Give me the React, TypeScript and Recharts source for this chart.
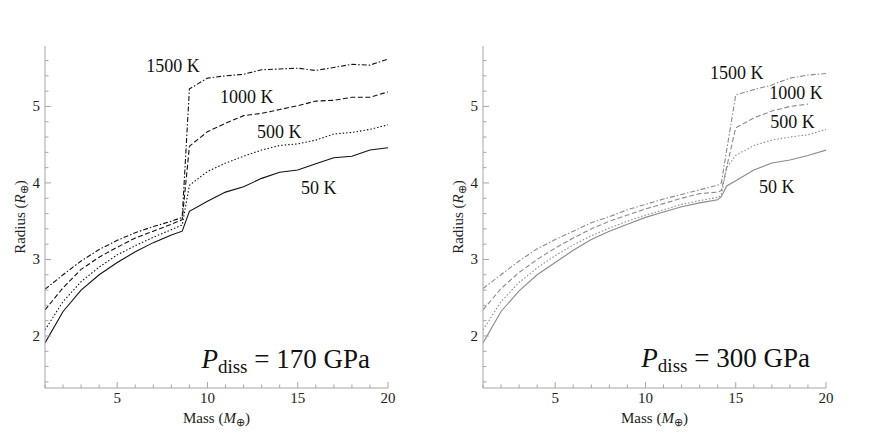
import React from "react";
import { LineChart, Line, XAxis, YAxis, ReferenceDot } from "recharts";

// Planet radius vs mass, two dissociation pressures
const masses170 = [1, 2, 3, 4, 5, 6, 7, 8, 8.6, 9, 10, 11, 12, 13, 14, 15, 16, 17, 18, 19, 20];
const r170_50 = [1.91, 2.32, 2.6, 2.8, 2.96, 3.1, 3.22, 3.32, 3.37, 3.63, 3.76, 3.88, 3.95, 4.06, 4.14, 4.17, 4.25, 4.33, 4.35, 4.43, 4.46];
const r170_500 = [2.08, 2.45, 2.71, 2.9, 3.06, 3.18, 3.29, 3.39, 3.45, 3.97, 4.15, 4.26, 4.35, 4.43, 4.49, 4.51, 4.56, 4.64, 4.66, 4.7, 4.76];
const r170_1000 = [2.34, 2.63, 2.87, 3.03, 3.16, 3.28, 3.37, 3.46, 3.52, 4.48, 4.67, 4.78, 4.88, 4.91, 4.96, 5.01, 5.07, 5.08, 5.12, 5.12, 5.19];
const r170_1500 = [2.61, 2.8, 2.98, 3.13, 3.25, 3.35, 3.43, 3.5, 3.55, 5.23, 5.37, 5.4, 5.42, 5.48, 5.49, 5.5, 5.47, 5.51, 5.55, 5.54, 5.62];

const masses300 = [1, 2, 3, 4, 5, 6, 7, 8, 9, 10, 11, 12, 13, 14, 14.2, 14.5, 15, 16, 17, 18, 19, 20];
const r300_50 = [1.91, 2.32, 2.59, 2.8, 2.96, 3.12, 3.26, 3.37, 3.46, 3.55, 3.62, 3.69, 3.74, 3.78, 3.82, 3.96, 4.03, 4.17, 4.26, 4.3, 4.36, 4.43];
const r300_500 = [2.08, 2.45, 2.7, 2.89, 3.05, 3.19, 3.31, 3.41, 3.5, 3.58, 3.65, 3.72, 3.77, 3.81, 3.84, 4.2, 4.36, 4.49, 4.56, 4.6, 4.63, 4.7];
const r300_1000 = [2.34, 2.62, 2.83, 3.0, 3.15, 3.28, 3.4, 3.5, 3.58, 3.66, 3.73, 3.8, 3.86, 3.88, 3.9, null, 4.72, 4.85, 4.94, 5.0, 5.03, null];
const r300_1500 = [2.62, 2.8, 2.98, 3.14, 3.26, 3.37, 3.48, 3.56, 3.65, 3.72, 3.79, 3.85, 3.91, 3.97, 4.0, null, 5.15, 5.22, 5.28, 5.37, 5.41, 5.43];

const tempNames = ["50 K", "500 K", "1000 K", "1500 K"];

const xTicks = [1, 2, 3, 4, 5, 6, 7, 8, 9, 10, 11, 12, 13, 14, 15, 16, 17, 18, 19, 20];
const xMajor = [5, 10, 15, 20];
const yTicks = [1.4, 1.6, 1.8, 2, 2.2, 2.4, 2.6, 2.8, 3, 3.2, 3.4, 3.6, 3.8, 4, 4.2, 4.4, 4.6, 4.8, 5, 5.2, 5.4, 5.6];
const yMajor = [2, 3, 4, 5];

const FONT = '"Liberation Serif", "Times New Roman", serif';
const FRAME = "#a6a6a6";
const DASHES = [undefined, "1.5 2", "5 2.5", "5 2 1.5 2"];

const isMajor = (list: number[], v: number) => list.some((m) => Math.abs(m - v) < 1e-6);

function BottomTick({ x, y, payload }: any) {
  const major = isMajor(xMajor, payload.value);
  return (
    <g>
      <line x1={x} x2={x} y1={y} y2={y - (major ? 6 : 3.5)} stroke={FRAME} />
      {major && (
        <text x={x} y={y + 15} textAnchor="middle" fontSize={15} fontFamily={FONT} fill="#222">
          {payload.value}
        </text>
      )}
    </g>
  );
}

function TopTick({ x, y, payload }: any) {
  const major = isMajor(xMajor, payload.value);
  return <line x1={x} x2={x} y1={y} y2={y + (major ? 6 : 3.5)} stroke={FRAME} />;
}

function LeftTick({ x, y, payload }: any) {
  const major = isMajor(yMajor, payload.value);
  return (
    <g>
      <line x1={x} x2={x + (major ? 6 : 3.5)} y1={y} y2={y} stroke={FRAME} />
      {major && (
        <text x={x - 5} y={y + 5} textAnchor="end" fontSize={15} fontFamily={FONT} fill="#222">
          {payload.value}
        </text>
      )}
    </g>
  );
}

function RightTick({ x, y, payload }: any) {
  const major = isMajor(yMajor, payload.value);
  return <line x1={x} x2={x - (major ? 6 : 3.5)} y1={y} y2={y} stroke={FRAME} />;
}

const massLabel = (props: any) => {
  const vb = props.viewBox;
  return (
    <text x={vb.x + vb.width / 2} y={vb.y + 35} textAnchor="middle" fontSize={15} fontFamily={FONT} fill="#222">
      <tspan>Mass (</tspan>
      <tspan fontStyle="italic">M</tspan>
      <tspan fontSize={11} dy={3}>⊕</tspan>
      <tspan dy={-3}>)</tspan>
    </text>
  );
};

const radiusLabel = (props: any) => {
  const vb = props.viewBox;
  const cx = vb.x + 20;
  const cy = vb.y + vb.height / 2;
  return (
    <text transform={`translate(${cx},${cy}) rotate(-90)`} textAnchor="middle" fontSize={15} fontFamily={FONT} fill="#222">
      <tspan>Radius (</tspan>
      <tspan fontStyle="italic">R</tspan>
      <tspan fontSize={11} dy={3}>⊕</tspan>
      <tspan dy={-3}>)</tspan>
    </text>
  );
};

const tempLabel = (text: string) => (props: any) => {
  const { x, y } = props.viewBox;
  return (
    <text x={x} y={y + 6} textAnchor="middle" fontSize={18} fontFamily={FONT} fill="#111" style={{ whiteSpace: "pre" }}>
      {text}
    </text>
  );
};

const pdissLabel = (value: string) => (props: any) => {
  const { x, y } = props.viewBox;
  return (
    <text x={x} y={y} textAnchor="end" fontSize={27} fontFamily={FONT} fill="#111" style={{ whiteSpace: "pre" }}>
      <tspan fontStyle="italic">P</tspan>
      <tspan fontSize={19} dy={5}>diss</tspan>
      <tspan dy={-5}>{` = ${value} GPa`}</tspan>
    </text>
  );
};

interface PanelProps {
  masses: number[];
  series: (number | null)[][];
  color: string;
  pdiss: string;
  pdissAt: [number, number];
  labelAt: [number, number][];
  width: number;
  marginLeft: number;
  marginRight: number;
}

function Panel({ masses, series, color, pdiss, pdissAt, labelAt, width, marginLeft, marginRight }: PanelProps) {
  const rows = masses.map((m, i) => {
    const row: any = { m };
    series.forEach((s, k) => (row["s" + k] = s[i]));
    return row;
  });
  return (
    <LineChart width={width} height={438} data={rows} margin={{ top: 46, right: marginRight, bottom: 20, left: marginLeft }}>
      <XAxis
        dataKey="m"
        type="number"
        domain={[1, 20]}
        allowDataOverflow
        ticks={xTicks}
        interval={0}
        tickSize={0}
        tickMargin={0}
        tickLine={false}
        tick={<BottomTick />}
        axisLine={{ stroke: FRAME }}
        height={30}
        label={massLabel}
      />
      <XAxis
        xAxisId="top"
        orientation="top"
        dataKey="m"
        type="number"
        domain={[1, 20]}
        allowDataOverflow
        ticks={xTicks}
        interval={0}
        tickSize={0}
        tickMargin={0}
        tickLine={false}
        tick={<TopTick />}
        axisLine={{ stroke: FRAME }}
        height={0}
      />
      <YAxis
        type="number"
        domain={[1.32, 5.79]}
        allowDataOverflow
        ticks={yTicks}
        interval={0}
        tickSize={0}
        tickMargin={0}
        tickLine={false}
        tick={<LeftTick />}
        axisLine={{ stroke: FRAME }}
        width={40}
        label={radiusLabel}
      />
      <YAxis
        yAxisId="right"
        orientation="right"
        type="number"
        domain={[1.32, 5.79]}
        allowDataOverflow
        ticks={yTicks}
        interval={0}
        tickSize={0}
        tickMargin={0}
        tickLine={false}
        tick={<RightTick />}
        axisLine={{ stroke: FRAME }}
        width={0}
      />
      {series.map((_, k) => (
        <Line
          key={k}
          type="linear"
          dataKey={"s" + k}
          stroke={color}
          strokeWidth={1.1}
          strokeDasharray={DASHES[k]}
          dot={false}
          connectNulls
          isAnimationActive={false}
        />
      ))}
      {labelAt.map(([lx, ly], k) => (
        <ReferenceDot key={"l" + k} x={lx} y={ly} r={0} fill="none" stroke="none" label={tempLabel(tempNames[k])} />
      ))}
      <ReferenceDot x={pdissAt[0]} y={pdissAt[1]} r={0} fill="none" stroke="none" label={pdissLabel(pdiss)} />
    </LineChart>
  );
}

export default function App() {
  return (
    <div style={{ position: "absolute", left: 0, top: 0, width: 872, height: 438, background: "#fff" }}>
      <div style={{ position: "absolute", left: 0, top: 0 }}>
        <Panel
          masses={masses170}
          series={[r170_50, r170_500, r170_1000, r170_1500]}
          color="#111"
          pdiss="170"
          pdissAt={[19.0, 1.58]}
          labelAt={[
            [16.17, 3.93],
            [13.98, 4.67],
            [12.17, 5.12],
            [8.09, 5.53],
          ]}
          width={440}
          marginLeft={5}
          marginRight={52}
        />
      </div>
      <div style={{ position: "absolute", left: 440, top: 0 }}>
        <Panel
          masses={masses300}
          series={[r300_50, r300_500, r300_1000, r300_1500]}
          color="#8a8a8a"
          pdiss="300"
          pdissAt={[19.11, 1.6]}
          labelAt={[
            [17.27, 3.95],
            [18.15, 4.8],
            [18.34, 5.17],
            [15.05, 5.44],
          ]}
          width={432}
          marginLeft={3}
          marginRight={46}
        />
      </div>
    </div>
  );
}
